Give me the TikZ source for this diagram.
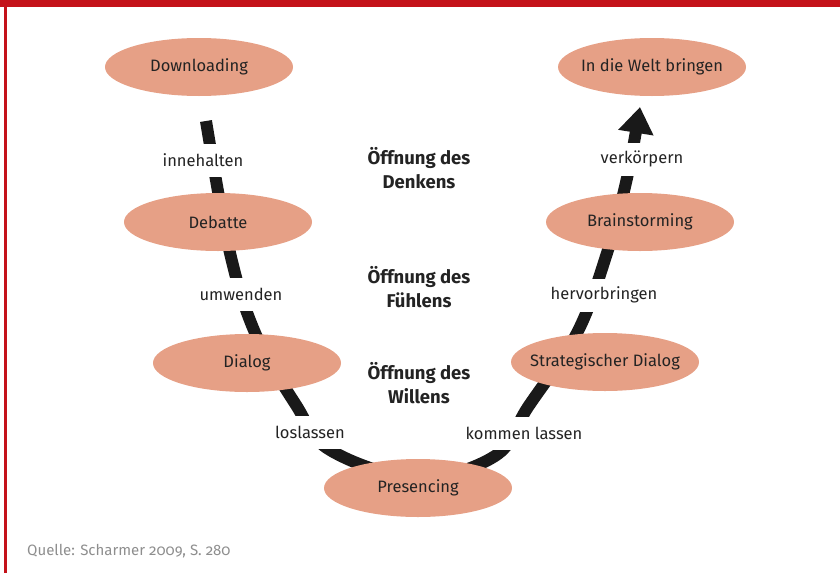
\documentclass[tikz,border=0pt]{standalone}
\usepackage{fontspec}
\setmainfont{Fira Sans}[Numbers=OldStyle]
\usetikzlibrary{shapes.geometric,arrows.meta}
\definecolor{bar}{HTML}{C4121A}
\definecolor{ellfill}{HTML}{E6A086}
\definecolor{ink}{HTML}{232323}
\definecolor{srcgray}{HTML}{8E8E8E}
\begin{document}
\begin{tikzpicture}[x=1pt,y=-1pt,
  ell/.style={ellipse, fill=ellfill, minimum width=188pt, minimum height=58pt, inner sep=0pt},
  etxt/.style={font=\fontsize{16.5}{19}\selectfont, text=ink},
  lbl/.style={font=\fontsize{16.5}{19}\selectfont, text=ink, fill=white, minimum height=33pt, inner xsep=2pt},
  head/.style={font=\fontsize{18.5}{24}\selectfont\bfseries, text=ink, align=center},
  uline/.style={line width=12pt, draw=black!90}]
\useasboundingbox (0,0) rectangle (840,573);
\fill[bar] (0,0) rectangle (840,7);
\fill[bar] (4,0) rectangle (7,573);
% U curve
\coordinate (c1) at (206,121);
\coordinate (c2) at (230,253);
\coordinate (c3) at (256,335);
\coordinate (c4) at (296,405);
\coordinate (c5) at (330,450);
\coordinate (c6) at (417,478);
\coordinate (c7) at (495,456);
\coordinate (c8) at (528,407);
\coordinate (c9) at (577,333);
\coordinate (c10) at (607,253);
\coordinate (c11) at (627,178);
\coordinate (c12) at (640,107);
\draw[uline, -{Triangle[width=34pt,length=26pt]}] plot[smooth, tension=0.6] coordinates {(c1) (c2) (c3) (c4) (c5) (c6) (c7) (c8) (c9) (c10) (c11) (c12)};
% labels on the curve
\node[lbl] (l1) at (203,160) {innehalten};
\node[lbl] (l2) at (241,294) {umwenden};
\node[lbl] (l3) at (310,432) {loslassen};
\node[lbl] (l4) at (524,433) {kommen lassen};
\node[lbl] (l5) at (604,295) {hervorbringen};
\node[lbl] (l6) at (642,159) {verkörpern};
% ellipses
\node[ell, label={[etxt]center:Downloading}] (n1) at (199,67) {};
\node[ell, label={[etxt]center:In die Welt bringen}] (n2) at (652,67) {};
\node[ell, label={[etxt]center:Debatte}] (n3) at (218,222) {};
\node[ell, label={[etxt]center:Brainstorming}] (n4) at (640,222) {};
\node[ell, label={[etxt]center:Dialog}] (n5) at (247,363) {};
\node[ell, label={[etxt]center:Strategischer Dialog}] (n6) at (605,362) {};
\node[ell, label={[etxt]center:Presencing}] (n7) at (418,488) {};
% headings
\node[head] (h1) at (419,168) {Öffnung des\\Denkens};
\node[head] (h2) at (419,287) {Öffnung des\\Fühlens};
\node[head] (h3) at (419,383) {Öffnung des\\Willens};
% source
\node[anchor=west, font=\fontsize{15}{17}\selectfont, text=srcgray, inner sep=0pt] (src) at (27,551) {Quelle: Scharmer 2009, S. 280};
\end{tikzpicture}
\end{document}
